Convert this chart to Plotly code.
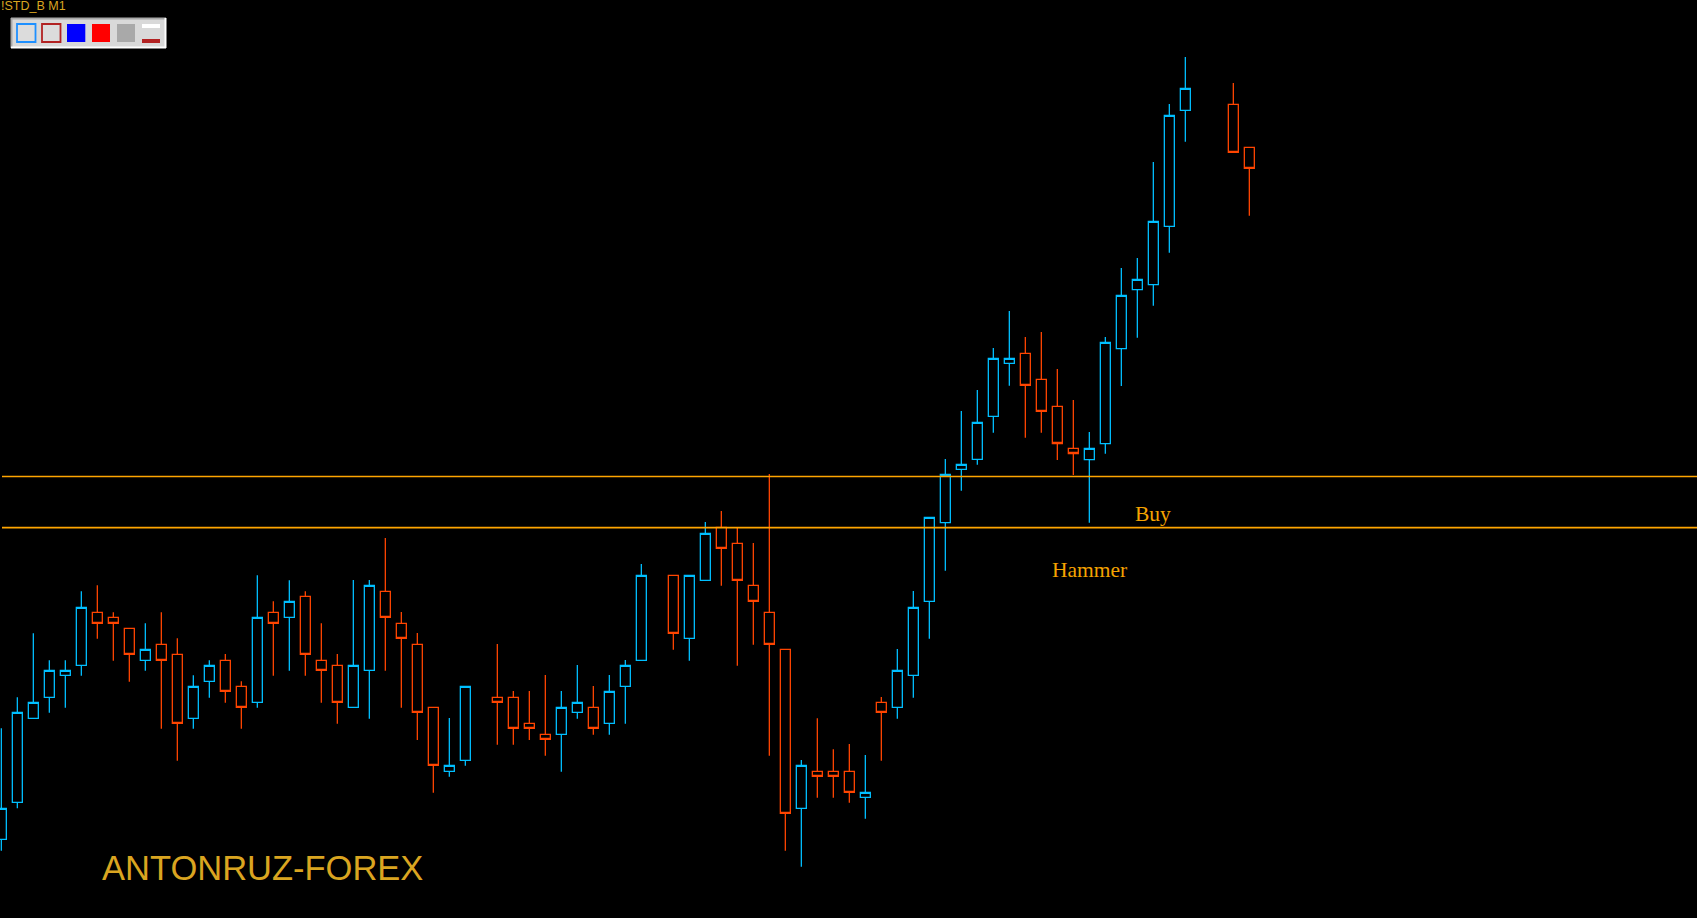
import plotly.graph_objects as go

W, H = 1697, 918

# ---- data (prices in points) ----
bar_index = [0, 1, 2, 3, 4, 5, 6, 7, 8, 9,
             10, 11, 12, 13, 14, 15, 16, 17, 18, 19,
             20, 21, 22, 23, 24, 25, 26, 27, 28, 29,
             31, 32, 33, 34, 35, 36, 37, 38, 39, 40,
             42, 43, 44, 45, 46, 47, 48, 49, 50, 51,
             52, 53, 54, 55, 56, 57, 58, 59, 60, 61,
             62, 63, 64, 65, 66, 67, 68, 69, 70, 71,
             72, 73, 74, 77, 78]

opens = [78.7, 115.7, 199.7, 220.7, 242.7, 252.7, 305.7, 300.7, 289.7, 257.7,
         273.7, 263.7, 199.7, 236.7, 257.7, 231.7, 215.7, 305.7, 300.7, 321.7,
         257.7, 252.7, 210.7, 247.7, 326.7, 294.7, 273.7, 210.7, 146.7, 157.7,
         220.7, 220.7, 194.7, 183.7, 183.7, 205.7, 210.7, 194.7, 231.7, 257.7,
         342.7, 279.7, 337.7, 390.7, 374.7, 332.7, 305.7, 268.7, 109.7, 146.7,
         146.7, 146.7, 120.7, 215.7, 210.7, 242.7, 316.7, 395.3, 448.7, 458.7,
         501.7, 554.7, 564.7, 538.7, 511.7, 469.7, 458.3, 474.3, 569.3, 628.3,
         633.3, 691.7, 807.7, 813.7, 770.7]

highs = [189.7, 220.7, 284.7, 257.7, 257.7, 326.7, 332.7, 305.7, 289.7, 294.7,
         305.7, 279.7, 242.7, 257.7, 264.0, 236.7, 342.7, 316.7, 337.7, 326.7,
         294.7, 264.0, 338.0, 338.0, 380.0, 306.0, 285.0, 210.7, 200.0, 231.7,
         274.0, 227.0, 227.0, 243.0, 227.0, 253.0, 232.0, 243.0, 258.0, 354.0,
         342.7, 342.7, 396.0, 407.0, 390.7, 375.0, 444.0, 268.7, 158.0, 199.7,
         168.7, 174.0, 163.0, 221.0, 269.0, 327.0, 400.7, 459.0, 507.0, 528.0,
         570.0, 607.0, 581.0, 586.0, 549.0, 518.0, 486.0, 581.0, 650.0, 660.0,
         756.0, 814.0, 861.0, 835.0, 770.7]

lows = [67.3, 109.7, 199.7, 205.3, 210.3, 242.3, 279.3, 257.3, 236.3, 247.3,
        189.3, 157.3, 189.3, 220.3, 215.3, 189.3, 210.3, 242.3, 247.3, 242.3,
        215.3, 194.3, 210.7, 199.3, 247.3, 210.3, 178.0, 125.3, 141.3, 152.3,
        173.3, 173.3, 178.0, 162.3, 146.3, 199.3, 183.3, 183.3, 194.3, 257.7,
        268.3, 257.3, 337.7, 332.3, 252.3, 273.3, 162.3, 67.3, 51.3, 120.3,
        120.3, 115.3, 99.3, 157.3, 199.3, 220.3, 279.3, 347.3, 427.3, 453.3,
        485.3, 532.3, 480.3, 485.3, 458.0, 443.0, 395.3, 464.3, 532.0, 580.3,
        612.3, 665.3, 776.3, 765.7, 702.3]

closes = [109.7, 205.7, 215.7, 247.7, 247.7, 310.7, 294.7, 294.7, 263.7, 268.7,
          257.7, 194.7, 231.7, 252.7, 226.7, 210.7, 300.7, 294.7, 316.7, 263.7,
          247.7, 215.7, 252.7, 332.7, 300.7, 279.7, 205.7, 152.7, 152.7, 231.7,
          215.7, 189.7, 189.7, 178.7, 210.7, 215.7, 189.7, 226.7, 252.7, 342.7,
          284.7, 342.7, 384.7, 369.7, 337.7, 316.7, 273.7, 104.7, 152.7, 141.7,
          141.7, 125.7, 125.7, 205.7, 247.7, 310.7, 400.7, 443.7, 453.7, 495.7,
          559.7, 559.7, 532.7, 506.7, 474.5, 464.5, 469.7, 575.7, 622.7, 638.7,
          696.7, 802.7, 829.7, 765.7, 749.7]

level_prices = [441.5, 390.3]

signal_labels = ["Hammer", "Buy"]
signal_bars = [68, 72]
signal_prices = [348.0, 404.0]

chart_title = "!STD_B M1"
watermark = "ANTONRUZ-FOREX"

BULL = "#00BFFF"
BEAR = "#FF4500"
LEVEL = "#FFA500"


def px(x, y):
    return x / W, 1 - y / H


fig = go.Figure()
fig.add_trace(go.Candlestick(
    x=bar_index, open=opens, high=highs, low=lows, close=closes,
    increasing=dict(line=dict(color=BULL, width=1.3), fillcolor="rgba(0,0,0,0)"),
    decreasing=dict(line=dict(color=BEAR, width=1.3), fillcolor="rgba(0,0,0,0)"),
    whiskerwidth=0, hoverinfo="skip", showlegend=False,
))

shapes = []
for lv in level_prices:
    shapes.append(dict(type="line", xref="paper", yref="y", x0=2 / W, x1=1,
                       y0=lv, y1=lv, line=dict(color=LEVEL, width=1.7)))


def rect(x0, y0, x1, y1, **kw):
    a0, b0 = px(x0, y0)
    a1, b1 = px(x1, y1)
    d = dict(type="rect", xref="paper", yref="paper", x0=a0, y0=b1, x1=a1, y1=b0)
    d.update(kw)
    return d


def seg(x0, y0, x1, y1, color, w):
    a0, b0 = px(x0, y0)
    a1, b1 = px(x1, y1)
    return dict(type="line", xref="paper", yref="paper", x0=a0, y0=b0, x1=a1, y1=b1,
                line=dict(color=color, width=w))


# panel of buttons (top-left)
shapes.append(rect(11, 18, 166, 48, fillcolor="#D9D9D9", line=dict(width=0)))
shapes.append(seg(11, 18.5, 166, 18.5, "#A8A8A8", 2))
shapes.append(seg(11.5, 18, 11.5, 48, "#A8A8A8", 2))
shapes.append(seg(11, 47.5, 166, 47.5, "#FFFFFF", 2))
shapes.append(seg(165.5, 18, 165.5, 48, "#FFFFFF", 2))
shapes.append(rect(17, 24, 35.5, 42, fillcolor="#DCDCDC", line=dict(color="#1E90FF", width=1.8)))
shapes.append(rect(42, 24, 60.5, 42, fillcolor="#DCDCDC", line=dict(color="#B22222", width=1.8)))
shapes.append(rect(67, 24, 85.3, 42, fillcolor="#0000FF", line=dict(width=0)))
shapes.append(rect(92, 24, 110, 42, fillcolor="#FF0000", line=dict(width=0)))
shapes.append(rect(117, 24, 135, 42, fillcolor="#A9A9A9", line=dict(width=0)))
shapes.append(rect(142, 24, 160, 28, fillcolor="#FFFFFF", line=dict(width=0)))
shapes.append(rect(142, 39, 160, 43, fillcolor="#B22222", line=dict(width=0)))

annotations = []
for lab, bx, pr in zip(signal_labels, signal_bars, signal_prices):
    annotations.append(dict(x=bx, y=pr, xref="x", yref="y", text=lab, showarrow=False,
                            xanchor="center", yanchor="middle",
                            font=dict(family="Liberation Serif, Times New Roman, serif",
                                      size=21.5, color="#F5A300")))

tx, ty = px(-1, -2.5)
annotations.append(dict(x=tx, y=ty, xref="paper", yref="paper", text=chart_title,
                        showarrow=False, xanchor="left", yanchor="top",
                        font=dict(family="Liberation Sans, Arial, sans-serif",
                                  size=12.5, color="#DAA520")))
wx, wy = px(262, 867.5)
annotations.append(dict(x=wx, y=wy, xref="paper", yref="paper", text=watermark,
                        showarrow=False, xanchor="center", yanchor="middle",
                        font=dict(family="Liberation Sans, Arial, sans-serif",
                                  size=34.5, color="#DAA520")))

fig.update_layout(
    width=W, height=H,
    margin=dict(l=0, r=0, t=0, b=0),
    paper_bgcolor="#000000", plot_bgcolor="#000000",
    boxgap=0.375, boxgroupgap=0,
    showlegend=False,
    shapes=shapes,
    annotations=annotations,
    xaxis=dict(visible=False, range=[-1.33 / 16, (W - 1.33) / 16],
               rangeslider=dict(visible=False), fixedrange=True),
    yaxis=dict(visible=False, range=[0, H], fixedrange=True),
    hovermode=False,
)

fig.write_html(
    "out.html",
    config={"displayModeBar": False},
    post_script=("document.body.style.margin='0';"
                 "document.body.style.overflow='hidden';"
                 "document.body.style.background='#000';"),
)
